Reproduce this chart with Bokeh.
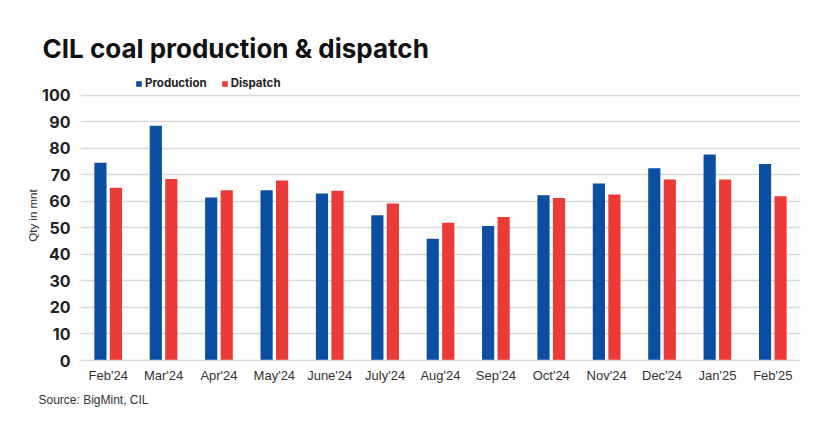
from bokeh.plotting import figure
from bokeh.models import ColumnDataSource, FactorRange, Legend, LegendItem, Title, Range1d, FixedTicker
from bokeh.transform import dodge
from bokeh.embed import file_html
from bokeh.resources import INLINE

months = ["Feb'24", "Mar'24", "Apr'24", "May'24", "June'24", "July'24", "Aug'24",
          "Sep'24", "Oct'24", "Nov'24", "Dec'24", "Jan'25", "Feb'25"]
production = [74.6, 88.6, 61.5, 64.2, 63.0, 54.8, 45.9, 50.7, 62.3, 66.8, 72.5, 77.7, 74.1]
dispatch = [65.2, 68.5, 64.2, 67.9, 64.0, 59.2, 52.0, 54.1, 61.3, 62.6, 68.3, 68.3, 62.0]
y_ticks = [0, 10, 20, 30, 40, 50, 60, 70, 80, 90, 100]

BLUE = "#0b4ea2"
RED = "#ec3a37"

src = ColumnDataSource(dict(months=months, production=production, dispatch=dispatch))

p = figure(x_range=FactorRange(*months), y_range=Range1d(0, 109.4),
           width=817, height=414, output_backend="svg", toolbar_location=None,
           min_border_left=80, min_border_right=17, min_border_top=70, min_border_bottom=54)

r1 = p.vbar(x=dodge("months", -0.14, range=p.x_range), top="production", width=0.22,
            source=src, color=BLUE, line_color=None)
r2 = p.vbar(x=dodge("months", 0.14, range=p.x_range), top="dispatch", width=0.22,
            source=src, color=RED, line_color=None)

p.title.text = "CIL coal production & dispatch"
p.title.text_font = "Inter"
p.title.text_font_size = "26px"
p.title.text_font_style = "bold"
p.title.text_color = "#111111"
p.title.offset = -38
p.title.standoff = 14

p.outline_line_color = None
p.xgrid.grid_line_color = None
p.ygrid.grid_line_color = "#d9d9d9"
p.ygrid.grid_line_width = 1.5

p.yaxis.ticker = FixedTicker(ticks=y_ticks)
p.yaxis.axis_line_color = None
p.yaxis.major_tick_line_color = None
p.yaxis.minor_tick_line_color = None
p.yaxis.major_tick_out = 0
p.yaxis.major_tick_in = 0
p.yaxis.major_label_text_font = "Inter"
p.yaxis.major_label_text_font_style = "bold"
p.yaxis.major_label_text_font_size = "16px"
p.yaxis.major_label_text_color = "#222222"
p.yaxis.major_label_standoff = 10
p.yaxis.axis_label = "Qty in mnt"
p.yaxis.axis_label_text_font = "Liberation Sans"
p.yaxis.axis_label_text_font_style = "normal"
p.yaxis.axis_label_text_font_size = "11.5px"
p.yaxis.axis_label_text_color = "#333333"
p.yaxis.axis_label_standoff = 0

p.xaxis.axis_line_color = "#d9d9d9"
p.xaxis.axis_line_width = 1.5
p.xaxis.major_tick_line_color = None
p.xaxis.minor_tick_line_color = None
p.xaxis.major_tick_out = 0
p.xaxis.major_tick_in = 0
p.xaxis.major_label_text_font = "Liberation Sans"
p.xaxis.major_label_text_font_size = "13px"
p.xaxis.major_label_text_color = "#333333"
p.xaxis.major_label_standoff = 7
p.x_range.range_padding = 0
p.x_range.group_padding = 0

legend = Legend(items=[LegendItem(label="Production", renderers=[r1]),
                       LegendItem(label="Dispatch", renderers=[r2])],
                orientation="horizontal", location=(55, 270),
                background_fill_alpha=0, border_line_color=None,
                label_text_font="Inter", label_text_font_style="bold",
                label_text_font_size="11.5px", label_text_color="#222222",
                glyph_width=7, glyph_height=7, label_standoff=3, spacing=14,
                padding=2, margin=0)
p.add_layout(legend, "center")

src_title = Title(text="Source: BigMint, CIL", align="left", text_font="Liberation Sans",
                  text_font_size="12px", text_font_style="normal", text_color="#333333",
                  offset=-42)
p.add_layout(src_title, "below")

open("out.html", "w").write(file_html(p, INLINE))
